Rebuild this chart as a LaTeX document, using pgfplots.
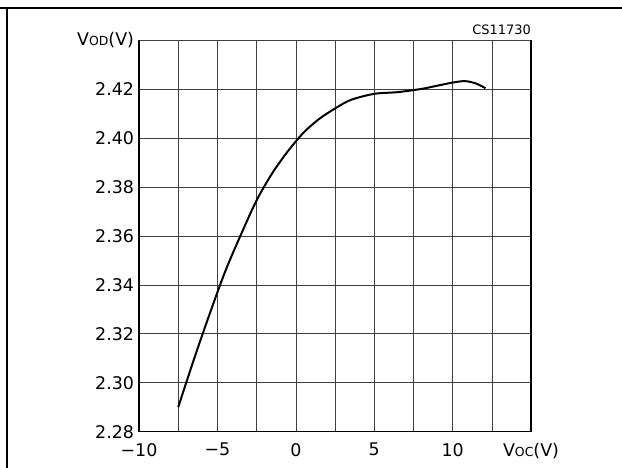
\documentclass[border=0pt]{standalone}
\usepackage{pgfplots}
\pgfplotsset{compat=1.18}
\usepackage{fontspec}
\setmainfont{DejaVu Sans}

\newcommand{\sub}[1]{{\fontsize{12.5}{12.5}\selectfont #1}}

\begin{document}
\begin{tikzpicture}[x=1bp,y=1bp]
\useasboundingbox (0,0) rectangle (622,468);
% outer frame lines of the data sheet page
\draw[line width=1.6pt] (0,460) -- (622,460);
\draw[line width=1.6pt] (7,460) -- (7,0);
\begin{axis}[
    at={(139bp,36.3bp)}, anchor=south west,
    scale only axis,
    width=392bp, height=391.7bp,
    xmin=-10, xmax=15,
    ymin=2.28, ymax=2.44,
    xtick={-10,-5,0,5,10,15},
    xticklabels={−10,−5,0,5,10,{V\sub{OC}(V)\hspace{6bp}}},
    minor x tick num=1,
    ytick={2.28,2.30,2.32,2.34,2.36,2.38,2.40,2.42,2.44},
    yticklabels={2.28,2.30,2.32,2.34,2.36,2.38,2.40,2.42,{\raisebox{-4.5bp}{V\sub{OD}(V)}}},
    major tick length=0pt, minor tick length=0pt,
    xmajorgrids, xminorgrids, ymajorgrids,
    grid style={black!75, line width=0.6pt},
    minor grid style={black!75, line width=0.6pt},
    axis line style={black!75, line width=0.6pt},
    tick label style={font=\fontsize{17.5}{17.5}\selectfont},
    xticklabel style={yshift=-8bp},
    yticklabel style={xshift=-1.5bp},
    clip=false,
    after end axis/.code={
        \draw[line width=1.4pt] (rel axis cs:0,1) -- (rel axis cs:0,0) -- (rel axis cs:1,0) -- (rel axis cs:1,1);
        \node[anchor=south east, font=\fontsize{13}{13}\selectfont, inner sep=0pt] at ([yshift=5bp]rel axis cs:1,1) {CS11730};
    },
]
\addplot[black, line width=2pt, smooth] coordinates {
    (-7.5, 2.2900)
    (-6.5, 2.3095)
    (-5.5, 2.3280)
    (-4.5, 2.3455)
    (-3.5, 2.3605)
    (-2.5, 2.3745)
    (-1.5, 2.3856)
    (-0.5, 2.3946)
    (0.5, 2.4022)
    (1.5, 2.4078)
    (2.5, 2.4120)
    (3.5, 2.4155)
    (5.0, 2.4180)
    (6.5, 2.4187)
    (8.0, 2.4200)
    (9.0, 2.4213)
    (10.0, 2.4226)
    (10.8, 2.4232)
    (11.5, 2.4222)
    (12.1, 2.4203)
};
\end{axis}
\end{tikzpicture}
\end{document}
